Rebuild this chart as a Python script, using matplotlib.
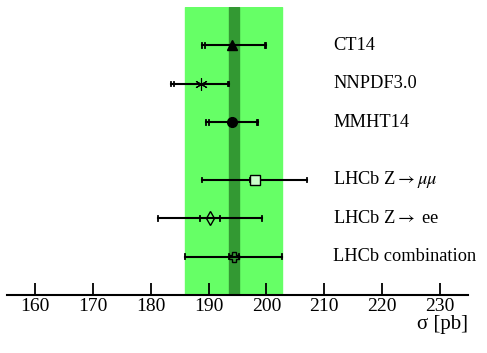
import matplotlib.pyplot as plt

# data (sigma in pb)
labels = ['CT14', 'NNPDF3.0', 'MMHT14', 'LHCb Z${\\rightarrow}\\mu\\mu$', 'LHCb Z${\\rightarrow}$ ee', 'LHCb combination']
ypos = [7.5, 6.5, 5.5, 4.0, 3.0, 2.0]
central = [194.0, 188.7, 194.0, 198.0, 190.2, 194.4]
tot_lo = [188.9, 183.5, 189.5, 188.9, 181.2, 186.0]
tot_hi = [199.9, 193.6, 198.5, 207.1, 199.2, 202.75]
in_lo = [189.4, 184.1, 190.0, 197.2, 188.6, 193.5]
in_hi = [199.7, 193.4, 198.3, 198.9, 191.9, 195.2]
markers = ['^', '*', 'o', 's', 'd', 'P']
filled = [True, False, True, False, False, False]

band_tot = (186.0, 202.75)
band_in = (193.5, 195.3)

plt.rcParams['font.family'] = ['Liberation Serif', 'DejaVu Serif']
plt.rcParams['mathtext.fontset'] = 'stix'

fig = plt.figure(figsize=(4.87, 3.53), dpi=100)
ax = fig.add_axes([0.0144, 0.164, 0.9466, 0.816])

ax.axvspan(*band_tot, color='#66ff66', zorder=0)
ax.axvspan(*band_in, color='#339933', zorder=1)

for i in range(len(labels)):
    y = ypos[i]
    ax.plot([tot_lo[i], tot_hi[i]], [y, y], color='black', lw=1.5, zorder=3)
    for xx in (tot_lo[i], tot_hi[i], in_lo[i], in_hi[i]):
        ax.plot([xx, xx], [y - 0.06, y + 0.06], color='black', lw=1.3, zorder=3)
    ms = 7 if markers[i] != '*' else 9
    if filled[i]:
        ax.plot(central[i], y, marker=markers[i], color='black', ms=ms, zorder=4)
    elif markers[i] == '*':
        ax.plot(central[i], y, marker=(6, 2, 0), color='black', mew=0.8, ms=ms, zorder=4)
    else:
        ax.plot(central[i], y, marker=markers[i], mfc='#ccffcc' if markers[i] == 's' else 'none',
                mec='black', mew=1.0, ms=ms, zorder=4)
    ax.text(0.708, (y - 1) / 7.5, labels[i], transform=ax.transAxes, fontsize=13.2,
            va='center', ha='left')

ax.set_xlim(155.15, 234.85)
ax.set_ylim(1, 8.5)
for s in ['left', 'right', 'top']:
    ax.spines[s].set_visible(False)
ax.spines['bottom'].set_linewidth(1.5)
ax.set_yticks([])
ax.set_xticks(range(160, 231, 10))
ax.tick_params(axis='x', direction='in', length=9, width=1.3, labelsize=14, pad=2)
ax.text(1.0, -0.118, 'σ [pb]', transform=ax.transAxes, ha='right', va='baseline', fontsize=15)

fig.savefig('out.png', dpi=100)
